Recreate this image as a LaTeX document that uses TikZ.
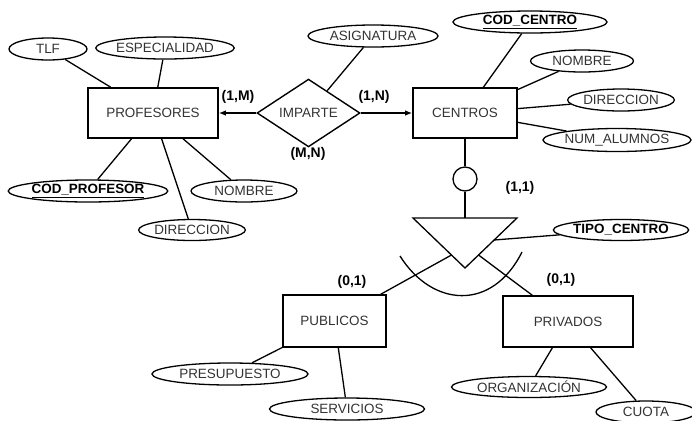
\documentclass[tikz,border=0pt]{standalone}
\usepackage{fontspec}
\setmainfont{Liberation Sans}
\usetikzlibrary{shapes.geometric,arrows.meta,calc}
\begin{document}
\begin{tikzpicture}[x=1bp,y=-1bp,
  ent/.style={draw,line width=1.6bp,inner sep=0,font=\fontsize{13.5}{15}\selectfont,text=black!80},
  attr/.style={draw,ellipse,line width=1.3bp,inner sep=0,minimum height=22bp,font=\fontsize{13.5}{15}\selectfont,text=black!80},
  keyattr/.style={attr,font=\fontsize{13.5}{15}\selectfont\bfseries,text=black},
  card/.style={font=\fontsize{14}{16}\selectfont\bfseries},
  link/.style={line width=1.3bp},
  tip/.style={-{Latex[length=7bp,width=5.5bp]}}]
\useasboundingbox (0,0) rectangle (692,420);
% entities
\node[ent,minimum width=130bp,minimum height=50bp] (prof) at (153,113) {PROFESORES};
\node[ent,minimum width=104bp,minimum height=50bp] (cen) at (465,113) {CENTROS};
\node[ent,minimum width=103bp,minimum height=52bp] (pub) at (334.5,321) {PUBLICOS};
\node[ent,minimum width=130bp,minimum height=51bp] (priv) at (568,321.5) {PRIVADOS};
% relationship
\node[draw,diamond,line width=1.4bp,inner sep=0,minimum width=103bp,minimum height=50bp,font=\fontsize{13.5}{15}\selectfont,text=black!80] (imp) at (308.5,113) {IMPARTE};
% attributes
\node[attr,minimum width=78bp] (tlf) at (48,49) {TLF};
\node[attr,minimum width=129bp] (esp) at (165,48) {ESPECIALIDAD};
\node[attr,minimum width=130bp] (asig) at (373,36) {ASIGNATURA};
\node[keyattr,minimum width=154bp] (codc) at (530,22) {\underline{COD\_CENTRO}};
\node[attr,minimum width=103bp] (nomc) at (582,61) {NOMBRE};
\node[attr,minimum width=103bp] (dirc) at (621,100) {DIRECCION};
\node[attr,minimum width=148bp,minimum height=23bp] (numal) at (617,140) {NUM\_ALUMNOS};
\node[keyattr,minimum width=157bp] (codp) at (88,191) {\underline{COD\_PROFESOR}};
\node[attr,minimum width=106bp] (nomp) at (244,191) {NOMBRE};
\node[attr,minimum width=105bp,minimum height=21bp] (dirp) at (192,230) {DIRECCION};
\node[keyattr,minimum width=128bp,minimum height=21bp] (tipo) at (621,230) {TIPO\_CENTRO};
\node[attr,minimum width=156bp] (pres) at (230,374) {PRESUPUESTO};
\node[attr,minimum width=155bp] (serv) at (347,409) {SERVICIOS};
\node[attr,minimum width=155bp,minimum height=21bp] (org) at (529,387) {ORGANIZACIÓN};
\node[attr,minimum width=100bp] (cuota) at (646,412) {CUOTA};
% specialization
\node[draw,circle,line width=1.3bp,minimum size=24bp,inner sep=0] (circ) at (465,179) {};
\coordinate (tA) at (413,218);
\coordinate (tB) at (517,218);
\coordinate (tC) at (465,268);
\coordinate (tTop) at (465,218);
\coordinate (tl) at ($(tA)!0.74!(tC)$);
\coordinate (tr) at ($(tB)!0.74!(tC)$);
\coordinate (tt) at ($(tB)!0.44!(tC)$);
\coordinate (arcL) at (400,256);
\coordinate (arcR) at (522,252);
\draw[link,line join=miter] (tA) -- (tB) -- (tC) -- cycle;
\draw[link] (cen) -- (circ);
\draw[link] (circ) -- (tTop);
\draw[link] (tl) -- ([xshift=-6bp]pub.north east);
\draw[link] (tr) -- ([xshift=30bp]priv.north west);
\draw[link] (tt) -- (tipo);
\draw[link] (arcL) .. controls (432,307) and (492,312) .. (arcR);
% relationship links
\draw[link,tip] (imp) -- (prof);
\draw[link,tip] (imp) -- (cen);
\draw[link] (asig) -- (imp);
% attribute links
\foreach \a in {tlf,esp,codp,nomp,dirp} \draw[link] (\a) -- (prof);
\foreach \a in {codc,nomc,dirc,numal} \draw[link] (\a) -- (cen);
\foreach \a in {pres,serv} \draw[link] (\a) -- (pub);
\foreach \a in {org,cuota} \draw[link] (\a) -- (priv);
% cardinalities
\node[card] (c1) at (238,97) {(1,M)};
\node[card] (c2) at (374,97) {(1,N)};
\node[card] (c3) at (308,154) {(M,N)};
\node[card] (c4) at (520,188) {(1,1)};
\node[card] (c5) at (352,282) {(0,1)};
\node[card] (c6) at (561,280) {(0,1)};
\end{tikzpicture}
\end{document}
